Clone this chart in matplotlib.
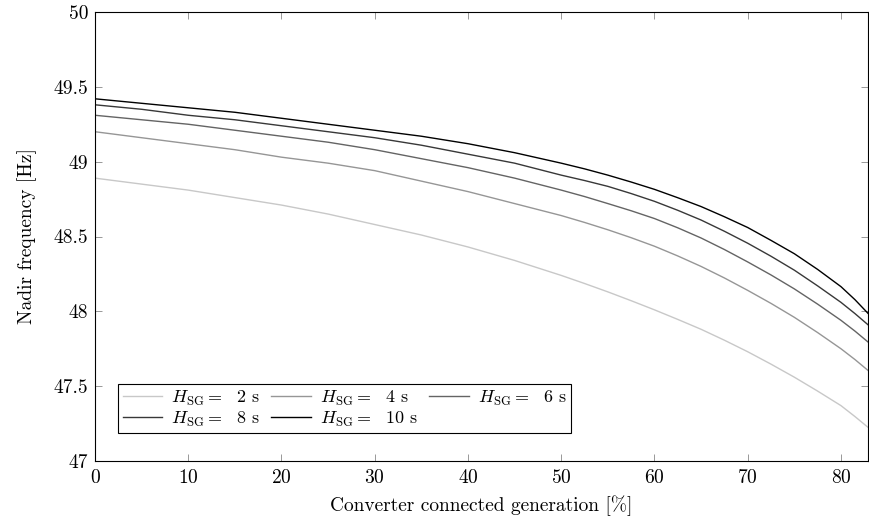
import matplotlib
matplotlib.use("Agg")
import matplotlib.pyplot as plt

plt.rcParams['font.family'] = ['cmr10', 'DejaVu Serif']
plt.rcParams['mathtext.fontset'] = 'cm'
plt.rcParams['axes.formatter.use_mathtext'] = True

x = [0, 5, 10, 15, 20, 25, 30, 35, 40, 45, 50, 52.5, 55, 57.5, 60, 62.5, 65,
     67.5, 70, 72.5, 75, 77.5, 80, 81.5, 83]
f_H2 = [48.89, 48.85, 48.81, 48.76, 48.71, 48.65, 48.58, 48.51, 48.43, 48.34,
        48.24, 48.186, 48.13, 48.071, 48.01, 47.946, 47.88, 47.807, 47.73,
        47.647, 47.56, 47.467, 47.37, 47.297, 47.22]
f_H4 = [49.20, 49.16, 49.12, 49.08, 49.03, 48.99, 48.94, 48.87, 48.80, 48.72,
        48.64, 48.594, 48.545, 48.492, 48.435, 48.37, 48.30, 48.223, 48.14,
        48.053, 47.96, 47.858, 47.75, 47.678, 47.60]
f_H6 = [49.31, 49.28, 49.25, 49.21, 49.17, 49.13, 49.08, 49.02, 48.96, 48.89,
        48.81, 48.767, 48.72, 48.672, 48.62, 48.558, 48.49, 48.413, 48.33,
        48.243, 48.15, 48.048, 47.94, 47.868, 47.79]
f_H8 = [49.38, 49.35, 49.31, 49.28, 49.24, 49.20, 49.16, 49.11, 49.05, 48.99,
        48.91, 48.874, 48.835, 48.787, 48.735, 48.675, 48.61, 48.535, 48.455,
        48.368, 48.275, 48.17, 48.06, 47.985, 47.905]
f_H10 = [49.42, 49.39, 49.36, 49.33, 49.29, 49.25, 49.21, 49.17, 49.12, 49.06,
         48.99, 48.952, 48.91, 48.864, 48.815, 48.759, 48.70, 48.632, 48.56,
         48.474, 48.385, 48.28, 48.165, 48.078, 47.98]
H_values = [2, 4, 6, 8, 10]
colors = ['#c8c8c8', '#969696', '#646464', '#383838', '#000000']
series = [f_H2, f_H4, f_H6, f_H8, f_H10]

fig = plt.figure(figsize=(8.69, 5.25), dpi=100)
ax = fig.add_axes([95/869, 1 - 461/525, 773/869, (461 - 12)/525])

lines = []
for H, c, y in zip(H_values, colors, series):
    ln, = ax.plot(x, y, color=c, lw=1.0,
                  label=r'$H_{\mathrm{SG}} =$' + f'  {H} s')
    lines.append(ln)

ax.set_xlim(0, 82.9)
ax.set_ylim(47, 50)
ax.set_xticks([0, 10, 20, 30, 40, 50, 60, 70, 80])
ax.set_yticks([47, 47.5, 48, 48.5, 49, 49.5, 50])
ax.set_yticklabels(['47', '47.5', '48', '48.5', '49', '49.5', '50'])
ax.tick_params(direction='in', length=5, width=0.6, color='#888888',
               top=True, right=True, labelsize=14)
ax.tick_params(axis='x', pad=6)
ax.tick_params(axis='y', pad=5)
for s in ax.spines.values():
    s.set_linewidth(0.8)
ax.set_xlabel('Converter connected generation [%]', fontsize=14, labelpad=6)
ax.set_ylabel('Nadir frequency [Hz]', fontsize=14, labelpad=12)

order = [0, 3, 1, 4, 2]
leg = ax.legend([lines[i] for i in order], [lines[i].get_label() for i in order],
                ncol=3, loc='lower left', bbox_to_anchor=(0.03, 0.062),
                fontsize=13, frameon=True, fancybox=False, edgecolor='black',
                framealpha=1, handlelength=2.2, handletextpad=0.5,
                columnspacing=0.6, borderpad=0.25, labelspacing=0.1,
                borderaxespad=0)
leg.get_frame().set_linewidth(0.8)

fig.savefig('out.png', dpi=100)
